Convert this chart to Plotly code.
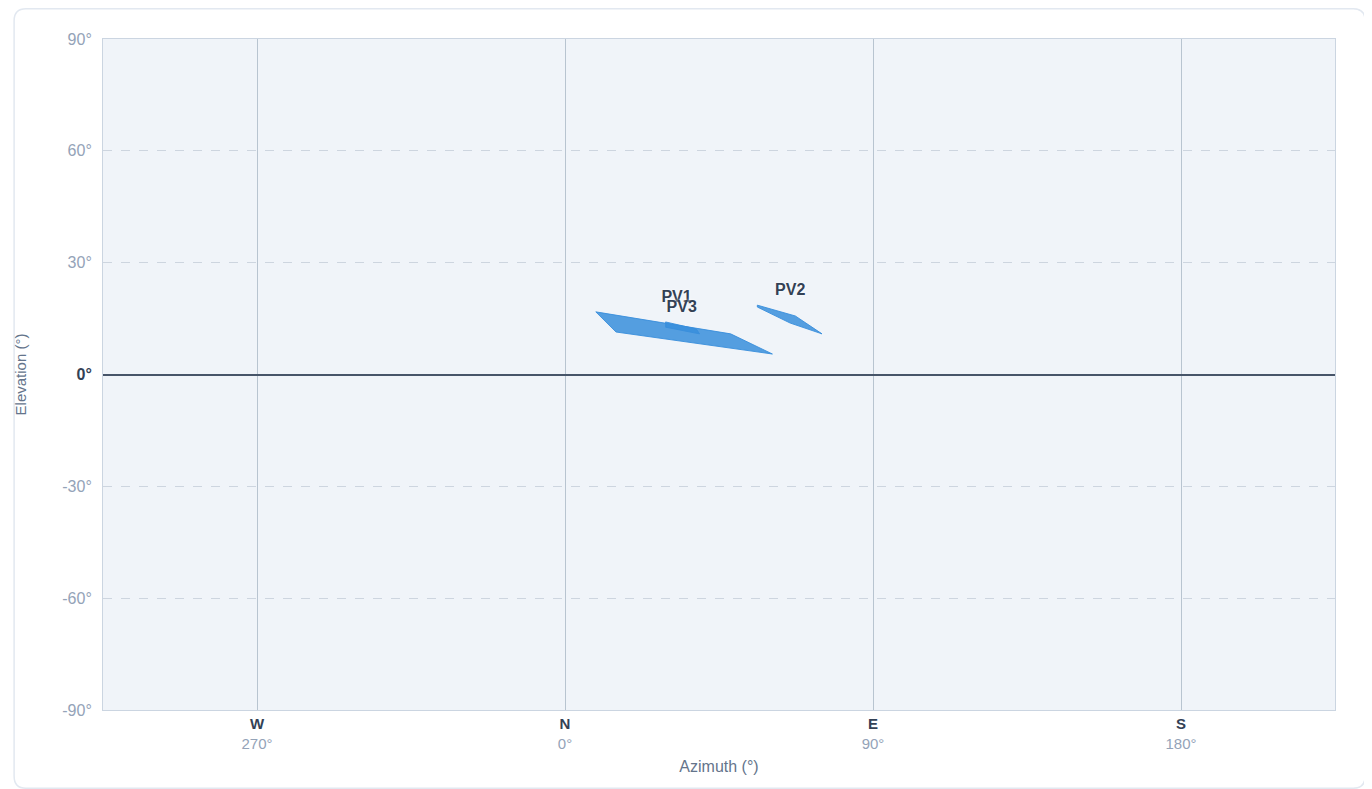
import plotly.graph_objects as go

# ---- data (azimuth in degrees, unwrapped so that W = -90; elevation in degrees)
pv_names = ["PV1", "PV2", "PV3"]
pv1_az = [9.0, 48.4, 60.6, 14.9]
pv1_el = [16.8, 10.9, 5.5, 11.4]
pv2_az = [56.2, 67.3, 75.1, 65.8, 56.2]
pv2_el = [18.6, 15.7, 10.9, 13.8, 18.1]
pv3_az = [29.4, 38.4, 39.3, 29.4]
pv3_el = [14.1, 12.2, 10.9, 12.7]
label_az = [32.6, 65.8, 34.1]
label_el = [20.5, 22.4, 17.8]

x_tickvals = [-90, 0, 90, 180]
x_dirs = ["W", "N", "E", "S"]
x_degs = ["270°", "0°", "90°", "180°"]
y_tickvals = [-90, -60, -30, 0, 30, 60, 90]

FILL = "rgba(56,142,220,0.85)"
DARK = "#334155"
MUTED = "#94a3b8"
FONT = "Arial"

fig = go.Figure()
for az, el in [(pv1_az, pv1_el), (pv2_az, pv2_el), (pv3_az, pv3_el)]:
    fig.add_trace(go.Scatter(
        x=az + [az[0]], y=el + [el[0]], mode="lines", fill="toself",
        fillcolor=FILL, line=dict(color="rgba(56,142,220,0.9)", width=1),
        showlegend=False, hoverinfo="skip"))

fig.add_trace(go.Scatter(
    x=label_az, y=label_el, mode="text", text=[f"<b>{n}</b>" for n in pv_names],
    textfont=dict(size=16, color=DARK, family=FONT, shadow="0px 0px 3px white"),
    showlegend=False, hoverinfo="skip"))

ticktext = [f"<span style='color:{DARK}'><b>{d}</b></span><br>{g}" for d, g in zip(x_dirs, x_degs)]
y_ticktext = ["<span style='color:%s'><b>0°</b></span>" % DARK if v == 0 else f"{v}°" for v in y_tickvals]

W, H = 1358, 781
L, R, T, B = 90, 31, 31, 79
pw, ph = W - L - R, H - T - B

def P(x, y):
    return f"{(x - L) / pw:.5f},{(H - B - y) / ph:.5f}"

# rounded card border
x0, x1, y0, y1, r = 0.75, W - 0.75, 0.75, H - 0.75, 12
path = (f"M {P(x0+r, y0)} L {P(x1-r, y0)} Q {P(x1, y0)} {P(x1, y0+r)} "
        f"L {P(x1, y1-r)} Q {P(x1, y1)} {P(x1-r, y1)} L {P(x0+r, y1)} "
        f"Q {P(x0, y1)} {P(x0, y1-r)} L {P(x0, y0+r)} Q {P(x0, y0)} {P(x0+r, y0)} Z")
fig.add_shape(type="path", path=path, xref="paper", yref="paper",
              line=dict(color="#e2e8f0", width=1.5), fillcolor="rgba(0,0,0,0)", layer="below")

fig.update_layout(
    width=W, height=H, autosize=False,
    margin=dict(l=L, r=R, t=T, b=B),
    paper_bgcolor="white", plot_bgcolor="#f0f4f9",
    font=dict(family=FONT, size=16, color=MUTED),
    xaxis=dict(range=[-135, 225], tickvals=x_tickvals, ticktext=ticktext,
               showgrid=True, gridcolor="#b8c4d0", gridwidth=1, zeroline=False,
               showline=True, linecolor="#cbd5e1", mirror=True, ticks="",
               tickfont=dict(size=15, color=MUTED),
               title=dict(text="Azimuth (°)", font=dict(size=16, color="#64748b"), standoff=10)),
    yaxis=dict(range=[-90, 90], tickvals=y_tickvals, ticktext=y_ticktext,
               showgrid=True, gridcolor="#cdd5df", griddash="dash", gridwidth=1,
               zeroline=True, zerolinecolor="#475569", zerolinewidth=1.5,
               showline=True, linecolor="#cbd5e1", mirror=True, ticks="",
               ticklabelstandoff=7,
               tickfont=dict(size=16, color=MUTED),
               title=dict(text="Elevation (°)", font=dict(size=15, color="#64748b"), standoff=32)),
)

fig.write_html("out.html")
